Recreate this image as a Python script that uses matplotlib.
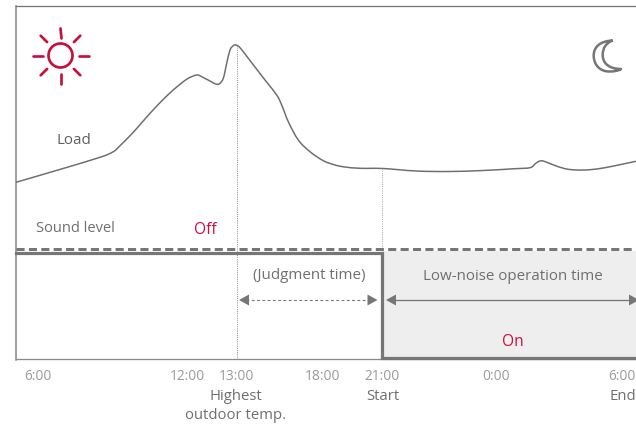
import matplotlib
matplotlib.use("Agg")
import matplotlib.pyplot as plt
from matplotlib.path import Path
from matplotlib.patches import PathPatch, Circle, Rectangle, Polygon
import numpy as np

plt.rcParams['font.family'] = ['Open Sans', 'DejaVu Sans']

# values (x = horizontal time position, y = level, pixel-scale axes)
load_x = [16, 58, 100, 113.3, 120, 133.3, 150, 166.7, 180, 188.3, 196.7, 201.7, 211.7, 215, 219, 223.3, 226.7, 230, 233.3, 236, 240, 248.3, 265, 276.7, 281.7, 288.3, 298.3, 310, 323.3, 335, 345, 360, 383, 416, 449, 483, 515, 530, 535, 539, 543.3, 551.7, 565, 576.7, 590, 605, 621.7, 636]
load_y = [182.3, 170, 157.3, 151.7, 145.7, 132.3, 113.3, 96, 84.3, 78.3, 75, 76.7, 82, 83.7, 84, 78.3, 63.3, 50, 45.7, 45, 47.7, 58.3, 80, 95, 105, 121.7, 140, 151.7, 160.7, 165, 167, 168.3, 168.5, 171, 171.5, 170.5, 168.7, 167.7, 164, 161.3, 161, 164.3, 168.7, 170, 169.7, 167.7, 164.3, 161.3]
hour_labels = ['6:00', '12:00', '13:00', '18:00', '21:00', '0:00', '6:00']
hour_pos = [38, 187, 236, 323, 382, 496, 622]
event_labels = ['Highest\noutdoor temp.', 'Start', 'End']
event_pos = [236, 382.5, 623]
step_x = [16, 382.3, 382.3, 636]
step_y = [253, 253, 358, 358]

GREY = '#767676'
RED = '#c8103f'
TXT = '#6f6f6f'
PX = 0.72

fig = plt.figure(figsize=(6.36, 4.28), dpi=100)
ax = fig.add_axes([0, 0, 1, 1])
ax.set_xlim(0, 636)
ax.set_ylim(428, 0)
ax.axis('off')

# shaded on-period
ax.add_patch(Rectangle((382.3, 251), 254, 107, fc='#eeeeee', ec='none', zorder=1))

# frame
ax.plot([16, 16], [5.5, 359.5], color='#8a8a8a', lw=1.6*PX, zorder=3)
ax.plot([16, 636], [5.5, 5.5], color='#777777', lw=1.3*PX, zorder=3)
ax.plot([16, 636], [359, 359], color='#8a8a8a', lw=1.3*PX, zorder=3)

# guides
ax.plot([236.5, 236.5], [45, 359], color='#777777', lw=0.9*PX, ls=(0, (1, 1.4)), zorder=2)
ax.plot([382, 382], [168, 249], color='#aaaaaa', lw=1*PX, ls=(0, (1, 1.2)), zorder=2)

# load curve: smooth path through the read points
pts = np.column_stack([load_x, load_y])
prev = np.vstack([pts[0], pts[:-1]])
nxt = np.vstack([pts[1:], pts[-1]])
tang = (nxt - prev) / 6
verts = [tuple(pts[0])]
codes = [Path.MOVETO]
for i in range(len(pts) - 1):
    verts += [tuple(pts[i] + tang[i]), tuple(pts[i+1] - tang[i+1]), tuple(pts[i+1])]
    codes += [Path.CURVE4] * 3
ax.add_patch(PathPatch(Path(verts, codes), fc='none', ec='#6e6e6e', lw=1.5*PX, zorder=4))

ax.plot([16, 636], [249.2, 249.2], color=GREY, lw=3*PX, ls=(0, (2.7, 1.43)), zorder=4)
ax.plot(step_x, step_y, color=GREY, lw=3.2*PX, zorder=5, solid_joinstyle='miter')

# range arrows
def head(x, y, d):
    ax.add_patch(Polygon([(x, y), (x + d*10, y - 5.5), (x + d*10, y + 5.5)], fc=GREY, ec='none', zorder=6))
ax.plot([246, 370], [300, 300], color=GREY, lw=1.1*PX, ls=(0, (2.6, 2.2)), zorder=5)
head(239, 300, 1); head(377.5, 300, -1)
ax.plot([394, 632], [300, 300], color=GREY, lw=1.3*PX, zorder=5)
head(386, 300, 1); head(639, 300, -1)

# sun icon
cx, cy = 60.5, 55.5
ax.add_patch(Circle((cx, cy), 12, fc='none', ec=RED, lw=2.7*PX, zorder=5))
for a in np.arange(8)*np.pi/4:
    r0, r1 = (18, 28) if int(round(a/(np.pi/4))) % 2 == 0 else (19, 28)
    ax.plot([cx + r0*np.cos(a), cx + r1*np.cos(a)], [cy + r0*np.sin(a), cy + r1*np.sin(a)],
            color=RED, lw=2.7*PX, solid_capstyle='round', zorder=5)

# moon icon
mv = [(612.7, 40.5), (600, 41), (593.5, 47), (593.7, 56), (594, 66), (601, 71.5), (609, 71.5),
      (614, 71.5), (618, 71), (621, 69), (610, 69), (602.7, 64), (602.7, 55), (602.7, 48), (606, 43), (612.7, 40.5)]
mc = [Path.MOVETO] + [Path.CURVE4] * 15
ax.add_patch(PathPatch(Path(mv, mc), fc='white', ec=GREY, lw=2.5*PX, zorder=5, joinstyle='round'))

# texts
def t(x, y, s, c=TXT, fs=10.3, **k):
    ax.text(x, y, s, color=c, fontsize=fs, ha='center', va='center', zorder=7, **k)

t(74, 141, 'Load', c='#5f5f5f', fs=10.8, fontweight='medium')
t(75.5, 228, 'Sound level', fs=10.5)
t(205.5, 230, 'Off', c=RED, fs=11.2)
t(309, 275.5, '(Judgment time)', fs=10.9)
t(512.5, 276.5, 'Low-noise operation time', fs=10.9)
t(512.5, 342, 'On', c=RED, fs=11.2)
for p, s in zip(hour_pos, hour_labels):
    t(p, 376, s, c='#9a9a9a', fs=9.9)
for p, s in zip(event_pos, event_labels):
    t(p, 406 if '\n' in s else 396.5, s, c='#6f6f6f', fs=10.7, linespacing=1.36)

fig.savefig('out.png', dpi=100)
